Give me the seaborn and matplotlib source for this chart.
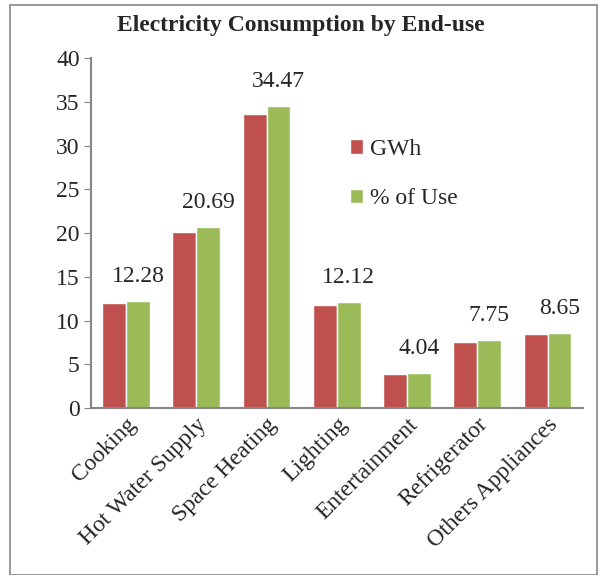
import matplotlib
matplotlib.use("Agg")
import matplotlib.pyplot as plt
import seaborn as sns
import pandas as pd
from matplotlib.patches import Rectangle

# Values
end_uses = ["Cooking", "Hot Water Supply", "Space Heating", "Lighting",
            "Entertainment", "Refrigerator", "Others Appliances"]
gwh = [11.97, 20.17, 33.61, 11.82, 3.94, 7.56, 8.43]
pct_use = [12.28, 20.69, 34.47, 12.12, 4.04, 7.75, 8.65]

df = pd.DataFrame({
    "End-use": end_uses * 2,
    "Value": gwh + pct_use,
    "Series": ["GWh"] * len(end_uses) + ["% of Use"] * len(end_uses),
})

sns.set_style("white")
plt.rcParams["font.family"] = ["Liberation Serif", "DejaVu Serif"]

fig = plt.figure(figsize=(6.02, 5.75), dpi=100)
ax = fig.add_axes([0.151, 0.290, 0.817, 0.609])

sns.barplot(data=df, x="End-use", y="Value", hue="Series",
            palette=["#C0504D", "#9BBB59"], width=0.68, gap=0,
            saturation=1, ax=ax)

# labels above % of Use bars
green = ax.containers[1]
for bar, v in zip(green, pct_use):
    ax.text(bar.get_x() + bar.get_width() / 2, v + 1.6, f"{v:.2f}",
            ha="center", va="bottom", fontsize=17)

ax.set_ylim(0, 40)
ax.set_yticks(range(0, 41, 5))
ax.set_xlim(-0.5, len(end_uses) - 0.5)
ax.set_xlabel("")
ax.set_ylabel("")
ax.tick_params(axis="y", labelsize=17, length=5, color="#868686", direction="out", left=True, pad=3)
ax.tick_params(axis="x", labelsize=17, length=0, pad=4)
plt.setp(ax.get_xticklabels(), rotation=45, ha="right", rotation_mode="anchor")

for side in ["top", "right"]:
    ax.spines[side].set_visible(False)
for side in ["left", "bottom"]:
    ax.spines[side].set_color("#868686")
    ax.spines[side].set_linewidth(1.5)

ax.legend(loc="upper left", bbox_to_anchor=(0.484, 0.83), frameon=False,
          fontsize=17, handlelength=0.55, handleheight=0.55,
          handletextpad=0.3, labelspacing=1.2)

fig.text(0.5, 0.955, "Electricity Consumption by End-use", ha="center",
         va="center", fontsize=17, fontweight="bold")

fig.patches.append(Rectangle((0.016, 0.0), 0.976, 0.991, transform=fig.transFigure,
                             fill=False, edgecolor="#868686", linewidth=1.2))

fig.savefig("out.png", dpi=100)
